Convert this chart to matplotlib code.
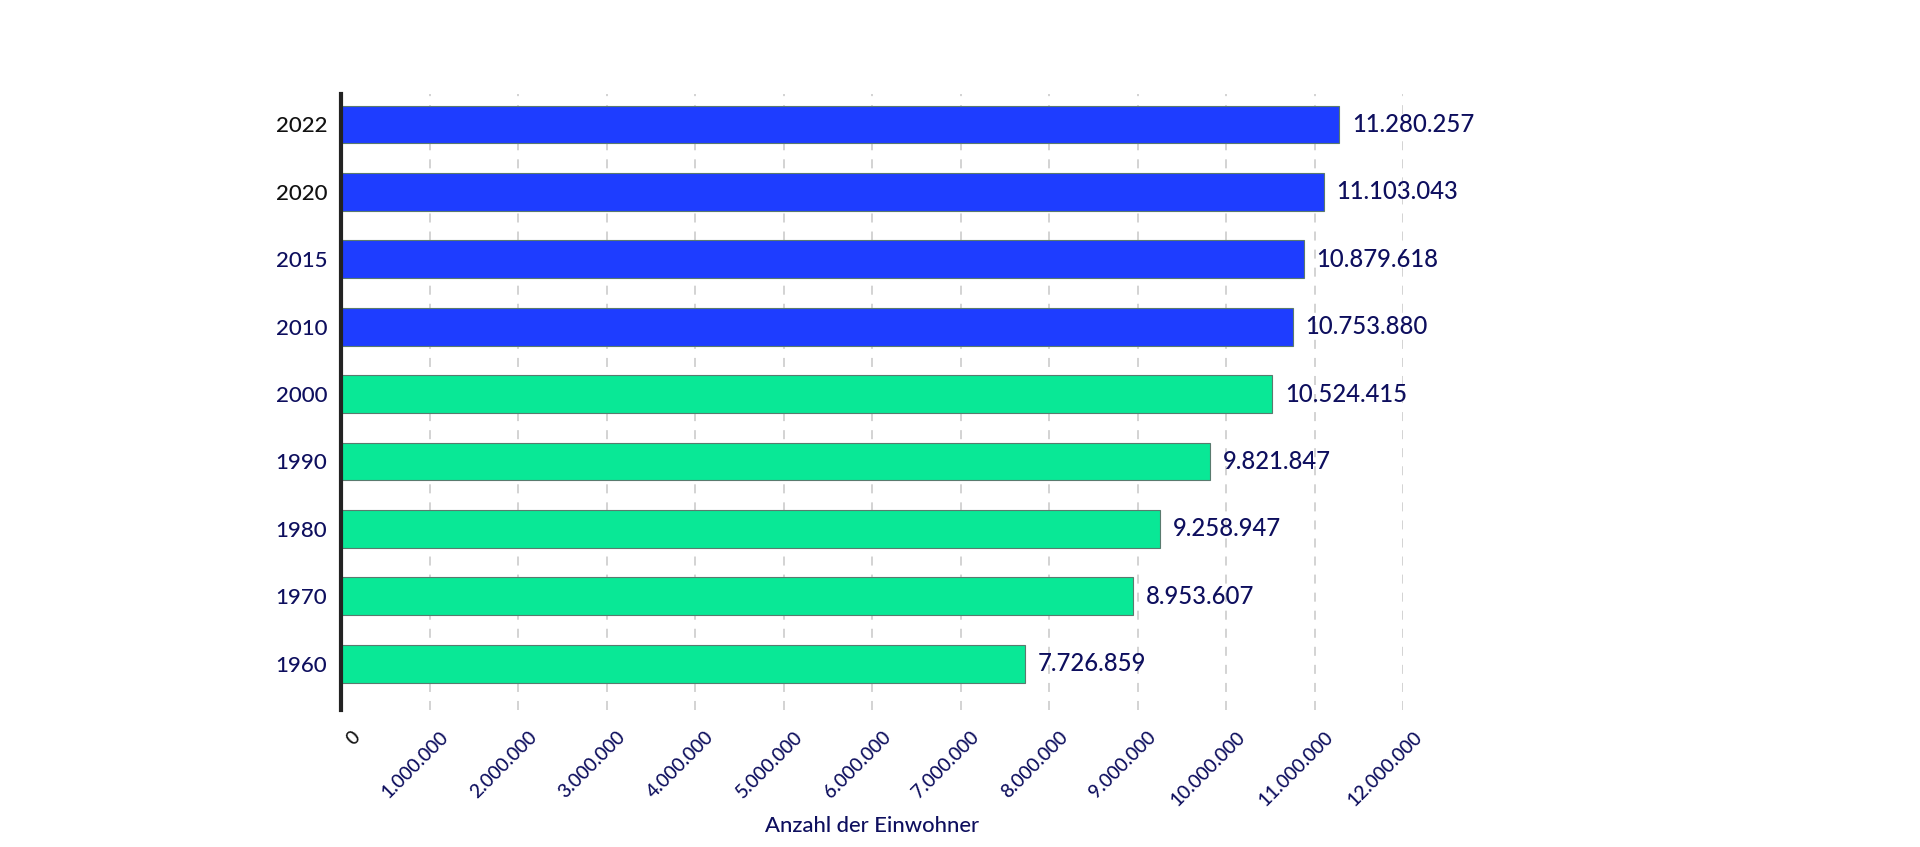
import matplotlib
matplotlib.use("Agg")
import matplotlib.pyplot as plt
from matplotlib.transforms import ScaledTranslation

years = ["1960", "1970", "1980", "1990", "2000", "2010", "2015", "2020", "2022"]
values = [7726859, 8953607, 9258947, 9821847, 10524415, 10753880, 10879618, 11103043, 11280257]
bar_colors = ["#09E896"] * 5 + ["#1E3DFF"] * 4
year_label_colors = ["#0E0F5E"] * 7 + ["#111111"] * 2
xticks = list(range(0, 12000001, 1000000))
xtick_labels = ["0"] + [f"{v:,}".replace(",", ".") for v in xticks[1:]]
xlabel = "Anzahl der Einwohner"

navy = "#0E0F5E"
plt.rcParams['font.family'] = ['Lato', 'DejaVu Sans']

fig = plt.figure(figsize=(19.2, 8.47), dpi=100)
ax = fig.add_axes([341/1920, 1 - 710/847, (1403-341)/1920, (710-94)/847])

y = list(range(len(years)))
ax.barh(y, values, height=0.56, color=bar_colors, edgecolor="#5a7a6e", linewidth=0.8, zorder=3)

for yi, v in zip(y, values):
    ax.annotate(f"{v:,}".replace(",", "."), (v, yi), xytext=(9, 0), textcoords="offset points",
                ha="left", va="center", fontsize=17.2, fontweight="medium", color=navy, zorder=4)

ax.set_xlim(0, 12000000)
ax.set_ylim(-0.687, 8.452)
ax.set_yticks(y)
ax.set_yticklabels(years, fontsize=16, fontweight="medium")
for lbl, c in zip(ax.get_yticklabels(), year_label_colors):
    lbl.set_color(c)
ax.tick_params(axis="y", length=0, pad=10)

ax.set_xticks(xticks)
ax.set_xticklabels([])
ax.tick_params(axis="x", length=0, pad=0)
offset = ScaledTranslation(16/100, -24/100, fig.dpi_scale_trans)
for i, (xv, txt) in enumerate(zip(xticks, xtick_labels)):
    ax.text(xv, 0, txt, transform=ax.get_xaxis_transform() + offset,
            rotation=45, rotation_mode="anchor", ha="right", va="center",
            fontsize=13.8, fontweight="medium", color="#111111" if i == 0 else navy, clip_on=False)

ax.grid(axis="x", color="#d0d0d0", linestyle=(0, (5, 5)), linewidth=1.3, zorder=0)
ax.grid(axis="y", visible=False)
for s in ["top", "right", "bottom"]:
    ax.spines[s].set_visible(False)
ax.spines["left"].set_linewidth(3)
ax.spines["left"].set_color("#222222")
ax.spines["left"].set_zorder(5)

fig.text((341+1403)/2/1920, 1 - 826/847, xlabel, ha="center", va="center", fontsize=15.8,
         fontweight="medium", color=navy)

fig.savefig("out.png", dpi=100, facecolor="white")
